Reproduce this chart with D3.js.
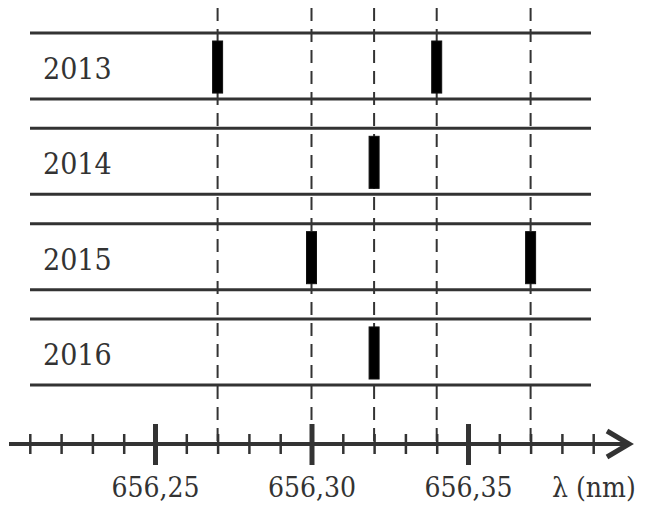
<!DOCTYPE html>
<html>

<head>
  <title>H-alpha line positions</title>
  <script src="https://cdn.jsdelivr.net/npm/d3@7/dist/d3.min.js"></script>
  <style type="text/css">
    html,
    body {
      margin: 0;
      padding: 0;
      background: #fff;
    }

    svg {
      display: block;
    }

    .row line {
      stroke: #333;
      stroke-width: 3px;
    }

    .ref {
      stroke: #333;
      stroke-width: 2px;
      stroke-dasharray: 13 8;
    }

    .bar {
      fill: #000;
      stroke: #111;
      stroke-width: 1px;
    }

    text {
      font-family: "DejaVu Serif Condensed", "DejaVu Serif", serif;
      font-stretch: condensed;
      fill: #333;
    }
  </style>
</head>

<body>
  <svg class="svg"></svg>
  <script type="text/javascript">
    // years and the measured line positions (nm)
    var years = ["2013", "2014", "2015", "2016"];
    var lines = [
      [656.27, 656.34],
      [656.32],
      [656.30, 656.37],
      [656.32]
    ];
    var refLines = [656.27, 656.30, 656.32, 656.34, 656.37];

    var majorTicks = [656.25, 656.30, 656.35];
    var minorTicks = [656.21, 656.22, 656.23, 656.24, 656.26, 656.27, 656.28, 656.29,
      656.31, 656.32, 656.33, 656.34, 656.36, 656.37, 656.38, 656.39];

    var width = 656,
      height = 506,
      axisY = 444;

    var svg = d3.select('.svg')
      .attr('width', width)
      .attr('height', height);

    var x = d3.scaleLinear()
      .domain([656.25, 656.35])
      .range([155, 468]);

    var y = d3.scaleBand()
      .domain(years)
      .range([33, 385])
      .paddingInner(0.307)
      .paddingOuter(0);

    // 虛線
    svg.selectAll('.ref')
      .data(refLines)
      .enter()
      .append('line')
      .attr('class', 'ref')
      .attr('x1', d => x(d))
      .attr('x2', d => x(d))
      .attr('y1', 8)
      .attr('y2', axisY);

    // 每年的框
    var rows = svg.selectAll('.row')
      .data(years)
      .enter()
      .append('g')
      .attr('class', 'row')
      .attr('transform', d => `translate(0, ${y(d)})`);

    rows.append('line')
      .attr('x1', 30)
      .attr('x2', 591)
      .attr('y1', 0)
      .attr('y2', 0);

    rows.append('line')
      .attr('x1', 30)
      .attr('x2', 591)
      .attr('y1', y.bandwidth())
      .attr('y2', y.bandwidth());

    rows.append('text')
      .attr('x', 43)
      .attr('y', y.bandwidth() / 2 + 13)
      .style('font-size', '30px')
      .text(d => d);

    // 譜線
    rows.selectAll('.bar')
      .data((d, i) => lines[i])
      .enter()
      .append('rect')
      .attr('class', 'bar')
      .attr('x', d => x(d) - 5)
      .attr('y', 8)
      .attr('width', 10)
      .attr('height', y.bandwidth() - 14);

    // 軸
    var axisG = svg.append('g')
      .attr('transform', `translate(0, ${axisY})`);

    axisG.append('line')
      .attr('x1', 9)
      .attr('x2', 627)
      .attr('stroke', '#333')
      .attr('stroke-width', 4);

    axisG.append('path')
      .attr('d', 'M607,-13L629,0L607,13')
      .attr('fill', 'none')
      .attr('stroke', '#333')
      .attr('stroke-width', 5);

    var minorAxis = axisG.append('g')
      .call(d3.axisBottom(x).tickValues(minorTicks).tickFormat('').tickSize(0));
    minorAxis.select('.domain').remove();
    minorAxis.selectAll('.tick line')
      .attr('y1', -10)
      .attr('y2', 10)
      .attr('stroke', '#333')
      .attr('stroke-width', 2.5);

    var fmt = d3.formatLocale({ decimal: ",", thousands: ".", grouping: [3], currency: ["", ""] }).format(".2f");

    var majorAxis = axisG.append('g')
      .call(d3.axisBottom(x).tickValues(majorTicks).tickFormat(fmt).tickSize(0).tickPadding(0));
    majorAxis.select('.domain').remove();
    majorAxis.selectAll('.tick line')
      .attr('y1', -20)
      .attr('y2', 21)
      .attr('stroke', '#333')
      .attr('stroke-width', 5);
    majorAxis.selectAll('.tick text')
      .attr('y', 53)
      .attr('dy', 0)
      .attr('font-family', null)
      .attr('font-size', null)
      .style('font-size', '28px')
      .style('fill', '#333');

    svg.append('text')
      .attr('x', 552)
      .attr('y', axisY + 53)
      .style('font-size', '28px')
      .text('λ (nm)');
  </script>
</body>

</html>
